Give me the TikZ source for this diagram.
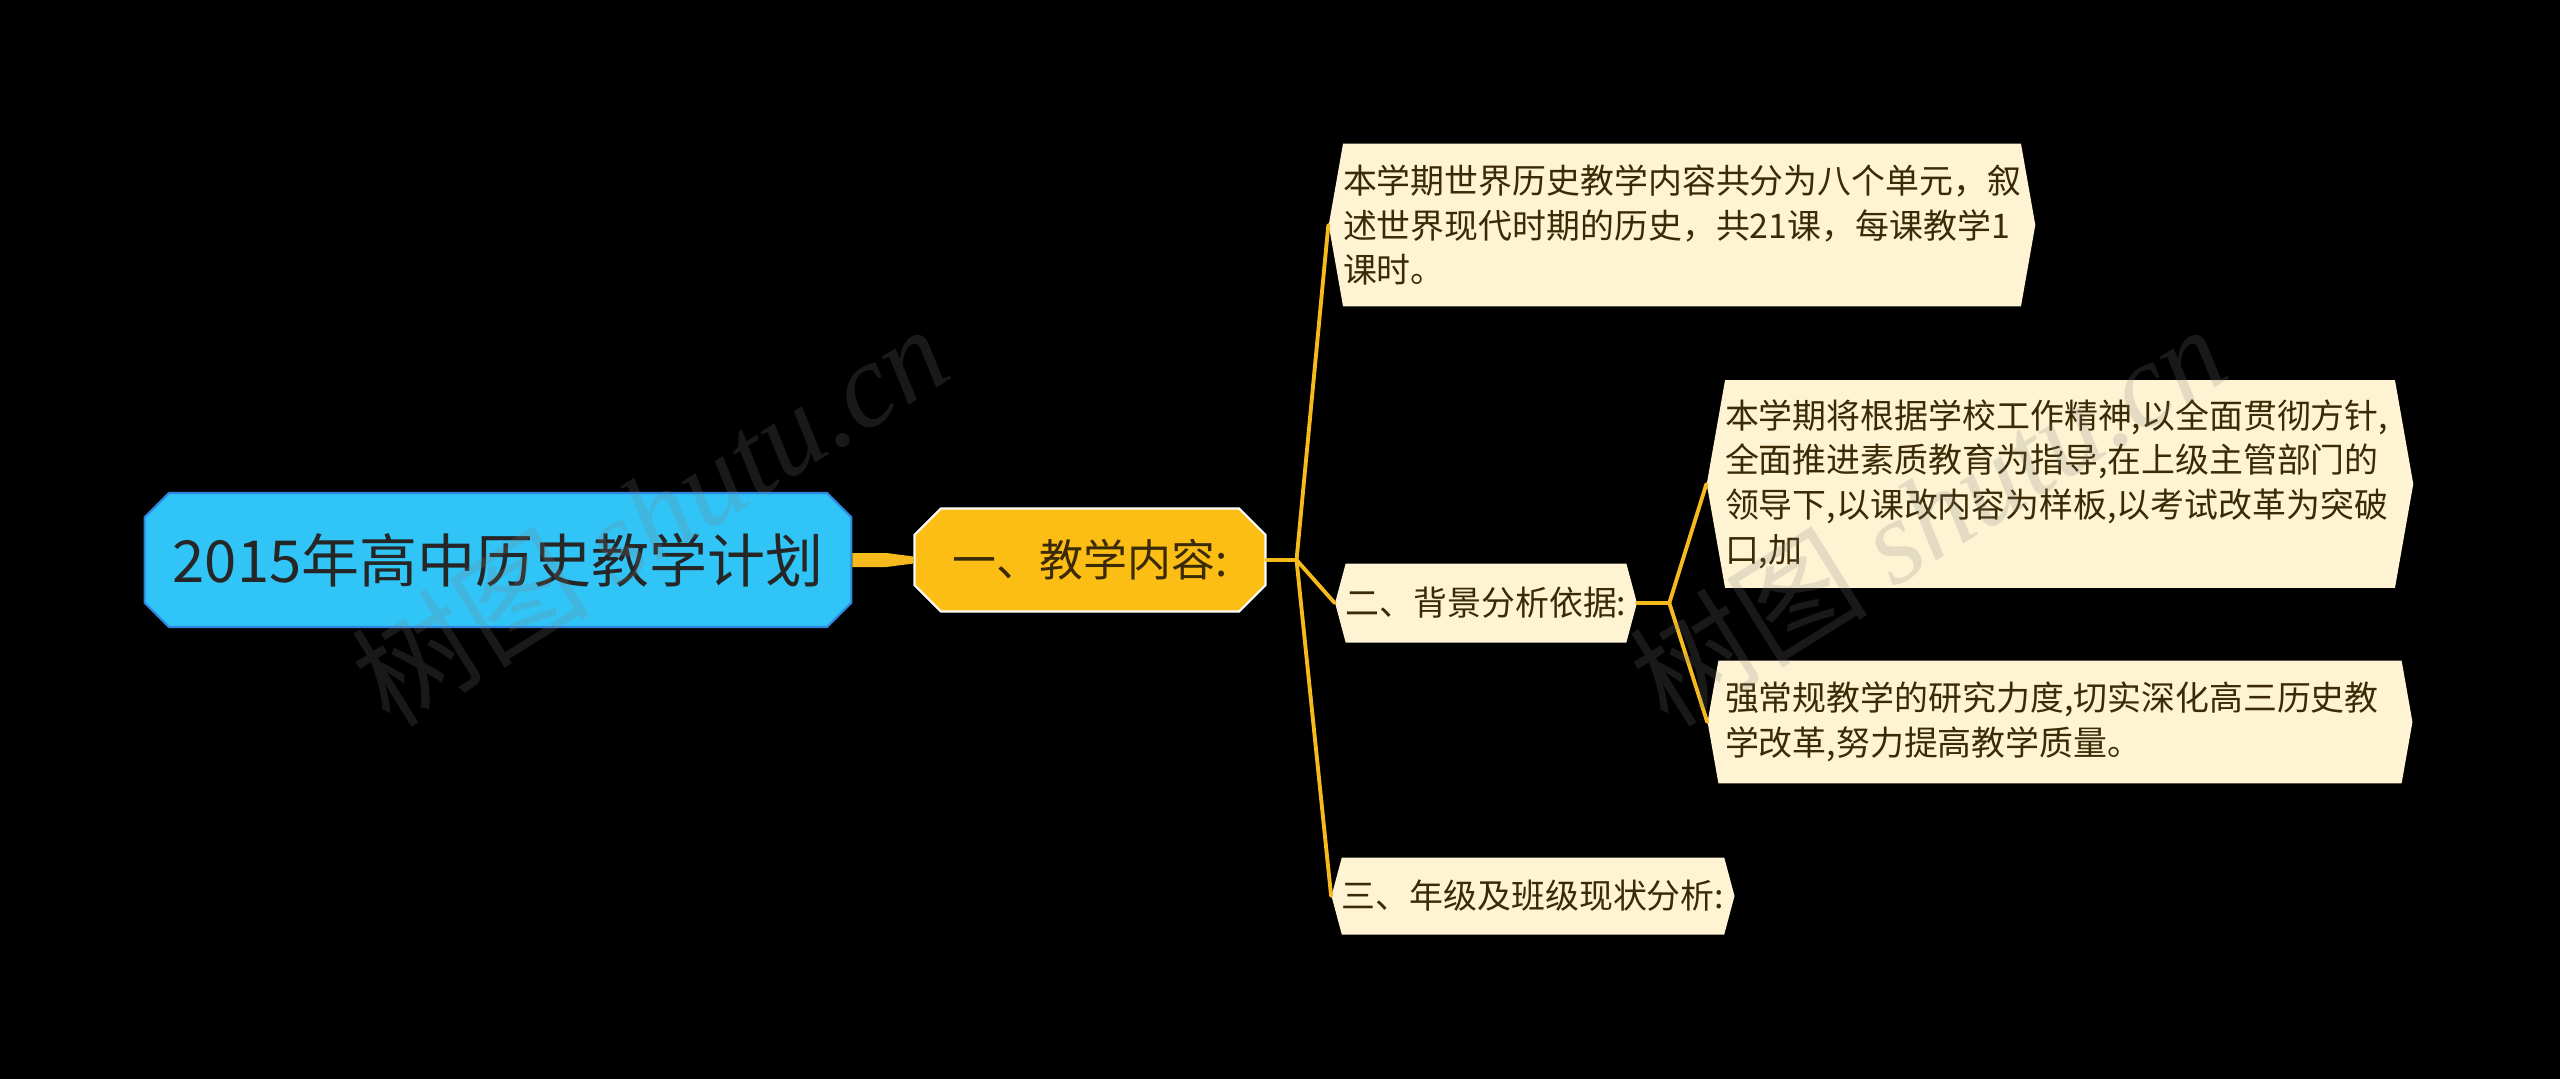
\documentclass[tikz,border=0pt]{standalone}
\usepackage{fontspec}
\setmainfont{Noto Sans CJK SC}
\newfontfamily\markfont{Liberation Serif}
\usetikzlibrary{shapes.misc,shapes.symbols,calc}
\definecolor{rootblue}{HTML}{31C4F6}
\definecolor{rootedge}{HTML}{2D86E0}
\definecolor{amber}{HTML}{FCBE14}
\definecolor{cream}{HTML}{FEF3D3}
\definecolor{branch}{HTML}{F6BA1C}
\definecolor{inkbrown}{HTML}{3B2A06}

\begin{document}
\begin{tikzpicture}[
  x=0.02cm, y=-0.02cm,
  rootbox/.style={chamfered rectangle, chamfered rectangle xsep=0.36cm, draw=rootedge, line width=1.2pt, fill=rootblue, text=black!85, inner sep=0pt, font=\fontsize{33pt}{40pt}\selectfont},
  topicbox/.style={chamfered rectangle, chamfered rectangle xsep=0.4cm, draw=white, line width=1.2pt, fill=amber, text=inkbrown, inner sep=0pt, font=\fontsize{25pt}{30pt}\selectfont},
  leaf/.style={signal, signal to=west and east, signal pointer angle=150, fill=cream, text=inkbrown, align=left, inner sep=0pt, font=\fontsize{19.3pt}{25.5pt}\selectfont},
  bigleaf/.style={leaf, signal pointer angle=160},
  link/.style={draw=branch, line width=2.2pt, line cap=round, line join=round},
  wmark/.style={text=gray, opacity=0.2, rotate=32, font=\fontsize{68pt}{70pt}\selectfont}
]
  \useasboundingbox (0,0) rectangle (2560,1079);
  \fill[black] (0,0) rectangle (2560,1079);

  \node[rootbox, minimum width=14.14cm, minimum height=2.68cm] (root) at (498,560) {2015年高中历史教学计划};
  \node[topicbox, minimum width=7.02cm, minimum height=2.06cm] (topic) at (1090,560) {一、教学内容:};

  \node[bigleaf, minimum width=13.46cm, minimum height=3.26cm, text width=13.56cm] (c1) at (1682,225)
    {本学期世界历史教学内容共分为八个单元，叙\\述世界现代时期的历史，共21课，每课教学1\\课时。};
  \node[leaf, minimum width=5.76cm, minimum height=1.58cm] (c2) at (1486,603) {二、背景分析依据:};
  \node[leaf, minimum width=7.66cm, minimum height=1.54cm] (c3) at (1533,896) {三、年级及班级现状分析:};

  \node[bigleaf, minimum width=13.4cm, minimum height=4.16cm, text width=13.4cm] (g1) at (2060,484)
    {本学期将根据学校工作精神,以全面贯彻方针,\\全面推进素质教育为指导,在上级主管部门的\\领导下,以课改内容为样板,以考试改革为突破\\口,加};
  \node[bigleaf, minimum width=14.1cm, minimum height=2.46cm, text width=13.4cm] (g2) at (2060,722)
    {强常规教学的研究力度,切实深化高三历史教\\学改革,努力提高教学质量。};

  % tapered link from the title
  \fill[branch] ($(root.east)+(0,-7)$) -- ($(root.east)+(34,-7)$) -- ($(topic.west)+(0,-3.5)$)
    -- ($(topic.west)+(0,3.5)$) -- ($(root.east)+(34,7)$) -- ($(root.east)+(0,7)$) -- cycle;

  \draw[link] (topic.east) -- ++(30,0) coordinate (j1);
  \draw[link] (j1) -- (c1.west);
  \draw[link] (j1) -- (c2.west);
  \draw[link] (j1) -- (c3.west);
  \draw[link] (c2.east) -- ++(32,0) coordinate (j2);
  \draw[link] (j2) -- (g1.west);
  \draw[link] (j2) -- (g2.west);

  \node[wmark] (wm1) at (649,514) {树图 {\markfont\itshape shutu.cn}};
  \node[wmark] (wm2) at (1927,514) {树图 {\markfont\itshape shutu.cn}};
\end{tikzpicture}
\end{document}
